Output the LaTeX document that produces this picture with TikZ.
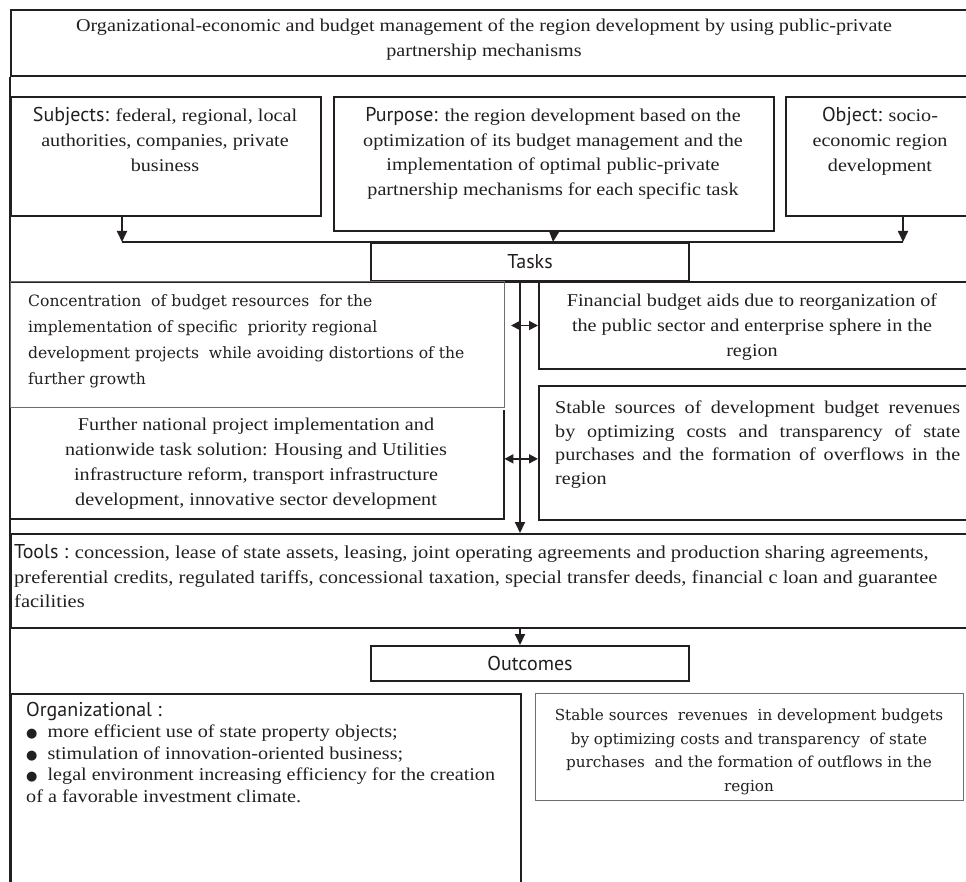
\documentclass[tikz,border=0pt]{standalone}
\usepackage{fontspec}
\setmainfont{Liberation Serif}[FakeStretch=1.12]
\newfontfamily\labelfont{PT Sans}
\newfontfamily\oddfont{DejaVu Serif}
\newfontfamily\dotfont{DejaVu Sans}
\usetikzlibrary{arrows.meta,calc}
\definecolor{ink}{HTML}{231F20}
\tikzset{
  box/.style={draw=ink, line width=2pt, inner sep=0pt, anchor=north west},
  thinbox/.style={draw=ink!65, line width=1pt, inner sep=0pt, anchor=north west},
  txt/.style={inner sep=0pt, anchor=north, align=center, text=ink, font=\fontsize{18}{24.8}\selectfont},
  oddtxt/.style={inner sep=0pt, text=ink, font=\oddfont\fontsize{15.6}{26}\selectfont},
  lbl/.style={text=ink, font=\labelfont\fontsize{20}{24}\selectfont},
  link/.style={draw=ink, line width=1.8pt},
  arr/.style={link, -{Triangle[length=11pt,width=10pt]}},
  dblarr/.style={link, {Triangle[length=9pt,width=9pt]}-{Triangle[length=9pt,width=9pt]}},
}
\newcommand{\lab}[1]{{\labelfont\fontsize{20}{24}\selectfont #1}}
\newcommand{\dotmark}{{\dotfont\fontsize{13}{13}\selectfont ●}}
\begin{document}
\begin{tikzpicture}[x=1pt, y=-1pt]
\useasboundingbox (0,0) rectangle (966,882);
\fill[white] (0,0) rectangle (966,882);
\clip (0,0) rectangle (966,882);

\node[box, minimum width=990pt, minimum height=66pt] (head) at (10,9) {};
\node[txt] (headtxt) at (484,19) {Organizational-economic and budget management of the region development by using public-private\\partnership mechanisms};
\coordinate (footleft) at (10,890);
\draw[link, line width=2pt] (head.south west) -- (footleft);

\node[box, minimum width=310pt, minimum height=119pt] (subj) at (10,96) {};
\node[txt] (subjtxt) at (165,107) {\lab{Subjects:} federal, regional, local\\authorities, companies, private\\business};
\node[box, minimum width=440pt, minimum height=134pt] (purp) at (333,96) {};
\node[txt] (purptxt) at (553,107) {\lab{Purpose:} the region development based on the\\optimization of its budget management and the\\implementation of optimal public-private\\partnership mechanisms for each specific task};
\node[box, minimum width=205pt, minimum height=119pt] (obj) at (785,96) {};
\node[txt] (objtxt) at (880,107) {\lab{Object:} socio-\\economic region\\development};

\coordinate (subjend) at (122,242);
\coordinate (purpend) at (553,242);
\coordinate (objend) at (903,242);
\draw[arr] (subj.south -| subjend) -- (subjend);
\draw[arr] (purp.south) -- (purpend);
\draw[arr] (obj.south -| objend) -- (objend);
\draw[link] (subjend) -- (objend);

\node[box, lbl, minimum width=318pt, minimum height=38pt] (tasks) at (370,242) {Tasks};
\draw[link, line width=2pt] (tasks.south -| head.west) -- (tasks.south -| head.east);

\node[thinbox, minimum width=494pt, minimum height=126pt] (conc) at (10,281) {};
\node[oddtxt, anchor=north west, align=left] (conctxt) at (28,294) {Concentration\ \ of budget resources\ \ for the\\implementation of specific\ \ priority regional\\development projects\ \ while avoiding distortions of the\\further growth};

\node[box, minimum width=452pt, minimum height=87pt] (fin) at (538,281) {};
\node[txt] (fintxt) at (752,294) {Financial budget aids due to reorganization of\\the public sector and enterprise sphere in the\\region};

\node[box, minimum width=452pt, minimum height=134pt] (stab) at (538,385) {};
\node[txt, anchor=north west, text width=405pt, align=justify, font=\fontsize{18}{23.5}\selectfont] (stabtxt) at (555,401) {Stable sources of development budget revenues\linebreak by optimizing costs and transparency of state\linebreak purchases and the formation of overflows in the\linebreak region};

\node[inner sep=0pt, anchor=north west, minimum width=494pt, minimum height=109pt] (furt) at (10,410) {};
\draw[link, line width=2pt] (furt.north east) -- (furt.south east) -- (furt.south west);
\node[txt] (furttxt) at (256,418) {Further national project implementation and\\nationwide task solution: Housing and Utilities\\infrastructure reform, transport infrastructure\\development, innovative sector development};

\node[box, minimum width=980pt, minimum height=94pt] (tools) at (10,533) {};
\node[txt, anchor=north west, align=left, font=\fontsize{18.3}{24.8}\selectfont] (toolstxt) at (14,544) {\lab{Tools :} concession, lease of state assets, leasing, joint operating agreements and production sharing agreements,\\preferential credits, regulated tariffs, concessional taxation, special transfer deeds, financial c loan and guarantee\\facilities};

\coordinate (spine) at (520,280);
\draw[arr] (spine) -- (spine |- tools.north);
\draw[dblarr] ([xshift=-27pt]fin.west) -- (fin.west);
\coordinate (furtlink) at ($(furt.east)!.5!(furt.east |- stab.west)$);
\draw[dblarr] (furtlink) -- (furtlink -| stab.west);

\node[box, lbl, minimum width=318pt, minimum height=35pt] (outc) at (370,645) {Outcomes};
\draw[arr] (tools.south -| spine) -- (outc.north -| spine);

\node[box, minimum width=510pt, minimum height=220pt] (org) at (10,693) {};
\node[txt, anchor=north west, align=left, font=\fontsize{18}{21.5}\selectfont] (orgtxt) at (26,702) {\lab{Organizational :}\\\dotmark\ \ more efficient use of state property objects;\\\dotmark\ \ stimulation of innovation-oriented business;\\\dotmark\ \ legal environment increasing efficiency for the creation\\of a favorable investment climate.};

\node[thinbox, minimum width=428pt, minimum height=107pt] (rbox) at (535,693) {};
\node[oddtxt, anchor=north, align=center, font=\oddfont\fontsize{15.2}{23.5}\selectfont] (rboxtxt) at (749,709) {Stable sources\ \ revenues\ \ in development budgets\\by optimizing costs and transparency\ \ of state\\purchases\ \ and the formation of outflows in the\\region};
\end{tikzpicture}
\end{document}
